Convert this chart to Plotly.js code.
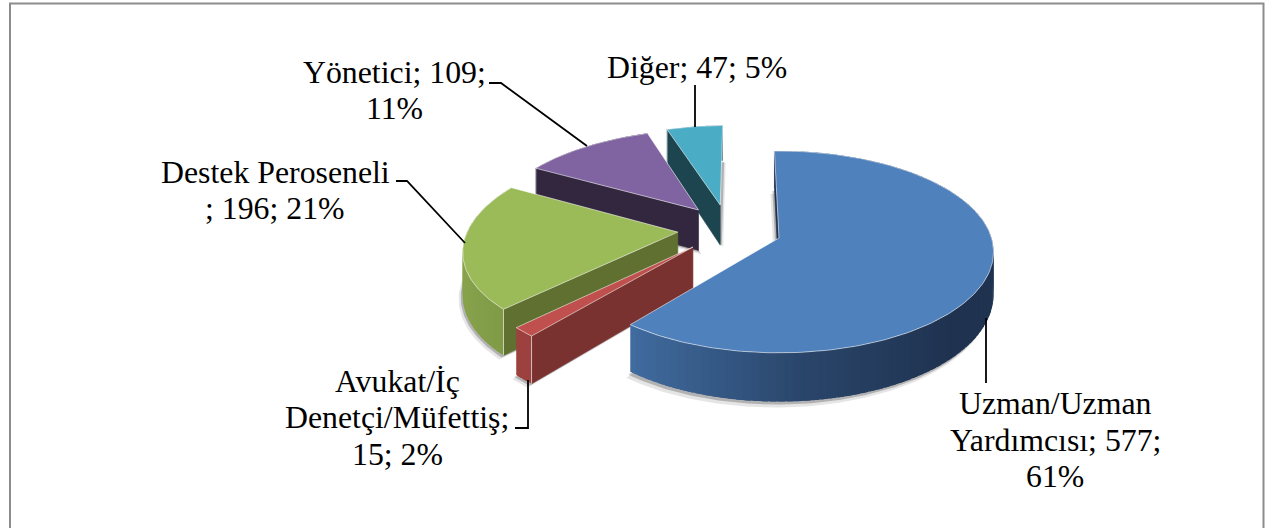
<!DOCTYPE html>
<html>
<head>
<meta charset="utf-8">
<script src="https://cdn.plot.ly/plotly-3.0.1.min.js"></script>
<style>html,body{margin:0;padding:0;background:#fff}#chart{width:1273px;height:528px}</style>
</head>
<body>
<div id="chart"></div>
<script>
// Data
const categories = ["Uzman/Uzman Yardımcısı", "Avukat/İç Denetçi/Müfettiş", "Destek Peroseneli", "Yönetici", "Diğer"];
const values = [577, 15, 196, 109, 47];
const percents = [61, 2, 21, 11, 5];

// Label wrapping as in the reference
const labelLines = [
  ["Uzman/Uzman", "Yardımcısı; 577;", "61%"],
  ["Avukat/İç", "Denetçi/Müfettiş;", "15; 2%"],
  ["Destek Peroseneli", "; 196; 21%"],
  ["Yönetici; 109;", "11%"],
  ["Diğer; 47; 5%"]
];
const labelX = [1055, 397, 275, 394, 697];
const labelBaseline = [[413, 450, 486], [391, 427, 464], [182, 218], [82, 118], [77]];

// Leader lines
const leaderX = [[986, 986], [528, 528, 515], [396, 407, 465], [489, 501, 587], [695, 695]];
const leaderY = [[318, 383], [380, 428, 428], [181, 181, 243], [83, 83, 146], [85, 127]];

// Styles
const topColors = ["#4F81BD", "#C0504D", "#9BBB59", "#8064A2", "#4BACC6"];
const edgeColors = ["#1F3350", "#7A3230", "#5F7030", "#33273F", "#1D4550"];
const rimStops = [
  [[632, [64, 107, 159]], [800, [42, 70, 107]], [950, [31, 51, 80]]],
  [[515, [156, 65, 62]], [535, [156, 65, 62]]],
  [[465, [135, 162, 75]], [505, [127, 154, 70]]],
  [[500, [51, 39, 63]], [700, [51, 39, 63]]],
  [[600, [29, 69, 80]], [720, [29, 69, 80]]]
];
// Explosion offset of each slice in the pie plane
const pullX = [0, -0.4, -0.48, -0.394, -0.29];
const pullZ = [0, -0.09, 0.06, 0.294, 0.349];
const shadowDX = [-2, -2, -2, 1.5, 1.5];
const shadowDY = [3, 2, 2, 2, 1];

// Projection of the tilted pie
const CX = 779, CY = 238, A = 212.5, B = 99, P = 0.138, DEPTH = 42, START = -1.4;
function project(px, pz, lift) {
  const s = 1 / (1 + P * pz);
  return [CX + A * px * s, CY + (-B * pz + lift) * s];
}
function rimPoint(i, deg, lift) {
  const t = deg * Math.PI / 180;
  return project(pullX[i] + Math.sin(t), pullZ[i] + Math.cos(t), lift);
}
function apexPoint(i, lift) { return project(pullX[i], pullZ[i], lift); }

function rimColor(i, x) {
  const st = rimStops[i];
  let c = st[st.length - 1][1];
  if (x <= st[0][0]) c = st[0][1];
  else for (let k = 0; k < st.length - 1; k++) {
    if (x >= st[k][0] && x <= st[k + 1][0]) {
      const f = (x - st[k][0]) / (st[k + 1][0] - st[k][0]);
      c = st[k][1].map((v, j) => v + f * (st[k + 1][1][j] - v));
      break;
    }
  }
  return "rgb(" + c.map(Math.round).join(",") + ")";
}

function poly(pts, fill, line, width) {
  const xs = pts.map(p => p[0]), ys = pts.map(p => p[1]);
  return {
    type: "scatter", mode: "lines", x: xs.concat(xs[0]), y: ys.concat(ys[0]),
    fill: "toself", fillcolor: fill, line: { color: line || fill, width: width === undefined ? 0.6 : width },
    hoverinfo: "skip", showlegend: false
  };
}
function arc(i, a, b, lift, step) {
  const out = [];
  const n = Math.max(1, Math.ceil(Math.abs(b - a) / (step || 1)));
  for (let k = 0; k <= n; k++) out.push(rimPoint(i, a + (b - a) * k / n, lift));
  return out;
}

const total = values.reduce((a, b) => a + b, 0);
const startAngle = [], endAngle = [];
let running = START;
values.forEach((v, i) => { startAngle[i] = running; running += v / total * 360; endAngle[i] = running; });

const traces = [];
[4, 3, 2, 1, 0].forEach(i => {
  const a = startAngle[i], b = endAngle[i];
  // soft drop shadow
  const low = [apexPoint(i, DEPTH)].concat(arc(i, a, b, DEPTH));
  [[2, "rgba(0,0,0,0.10)"], [1, "rgba(0,0,0,0.22)"]].forEach(([m, col]) => {
    traces.push(poly(low.map(p => [p[0] + shadowDX[i] * m, p[1] + shadowDY[i] * m]), col, col, 0));
  });
  // outer wall as narrow overlapping strips, painted from the slice's end back to its start
  const step = (b - a) > 30 ? 2 : Math.max((b - a) / 3, 0.5);
  for (let d = a; d < b - 1e-6; d += step) {
    const e = Math.min(d + step + 1.5, b);
    const top = arc(i, d, e, 0, 1), bot = arc(i, e, d, DEPTH, 1);
    const col = rimColor(i, rimPoint(i, d + step / 2, 0)[0]);
    traces.push(poly(top.concat(bot), col, col, 0));
  }
  // cut wall at the slice's leading edge
  traces.push(poly([apexPoint(i, 0), rimPoint(i, a, 0), rimPoint(i, a, DEPTH), apexPoint(i, DEPTH)], edgeColors[i]));
  // light vertical seam where the walls meet
  const s0 = rimPoint(i, a, 0), s1 = rimPoint(i, a, DEPTH);
  if (i !== 0) traces.push({
    type: "scatter", mode: "lines", x: [s0[0], s1[0]], y: [s0[1], s1[1]],
    line: { color: "rgba(255,255,255,0.65)", width: 1 }, hoverinfo: "skip", showlegend: false
  });
  // top face
  traces.push(poly([apexPoint(i, 0)].concat(arc(i, a, b, 0)), topColors[i], "rgba(255,255,255,0.55)", 1));
});

// Leader lines
leaderX.forEach((xs, i) => traces.push({
  type: "scatter", mode: "lines", x: xs, y: leaderY[i],
  line: { color: "#000", width: 1.8 }, hoverinfo: "skip", showlegend: false
}));

// Text, one annotation per wrapped line
const annotations = [];
labelLines.forEach((lines, i) => lines.forEach((t, k) => annotations.push({
  x: labelX[i], y: labelBaseline[i][k] - 10, xref: "x", yref: "y",
  xanchor: "center", yanchor: "middle", showarrow: false, text: t,
  font: { family: "Liberation Serif, serif", size: 31.8, color: "#000" }
})));

const layout = {
  width: 1273, height: 528, margin: { l: 0, r: 0, t: 0, b: 0 },
  paper_bgcolor: "#fff", plot_bgcolor: "#fff", showlegend: false,
  xaxis: { range: [0, 1273], visible: false, fixedrange: true },
  yaxis: { range: [528, 0], visible: false, fixedrange: true },
  annotations,
  shapes: [{ type: "rect", xref: "x", yref: "y", x0: 10, y0: 3.5, x1: 1263.5, y1: 540, line: { color: "#8C8C8C", width: 2 }, fillcolor: "rgba(0,0,0,0)", layer: "below" }]
};
Plotly.newPlot("chart", traces, layout, { displayModeBar: false, staticPlot: true });
</script>
</body>
</html>
